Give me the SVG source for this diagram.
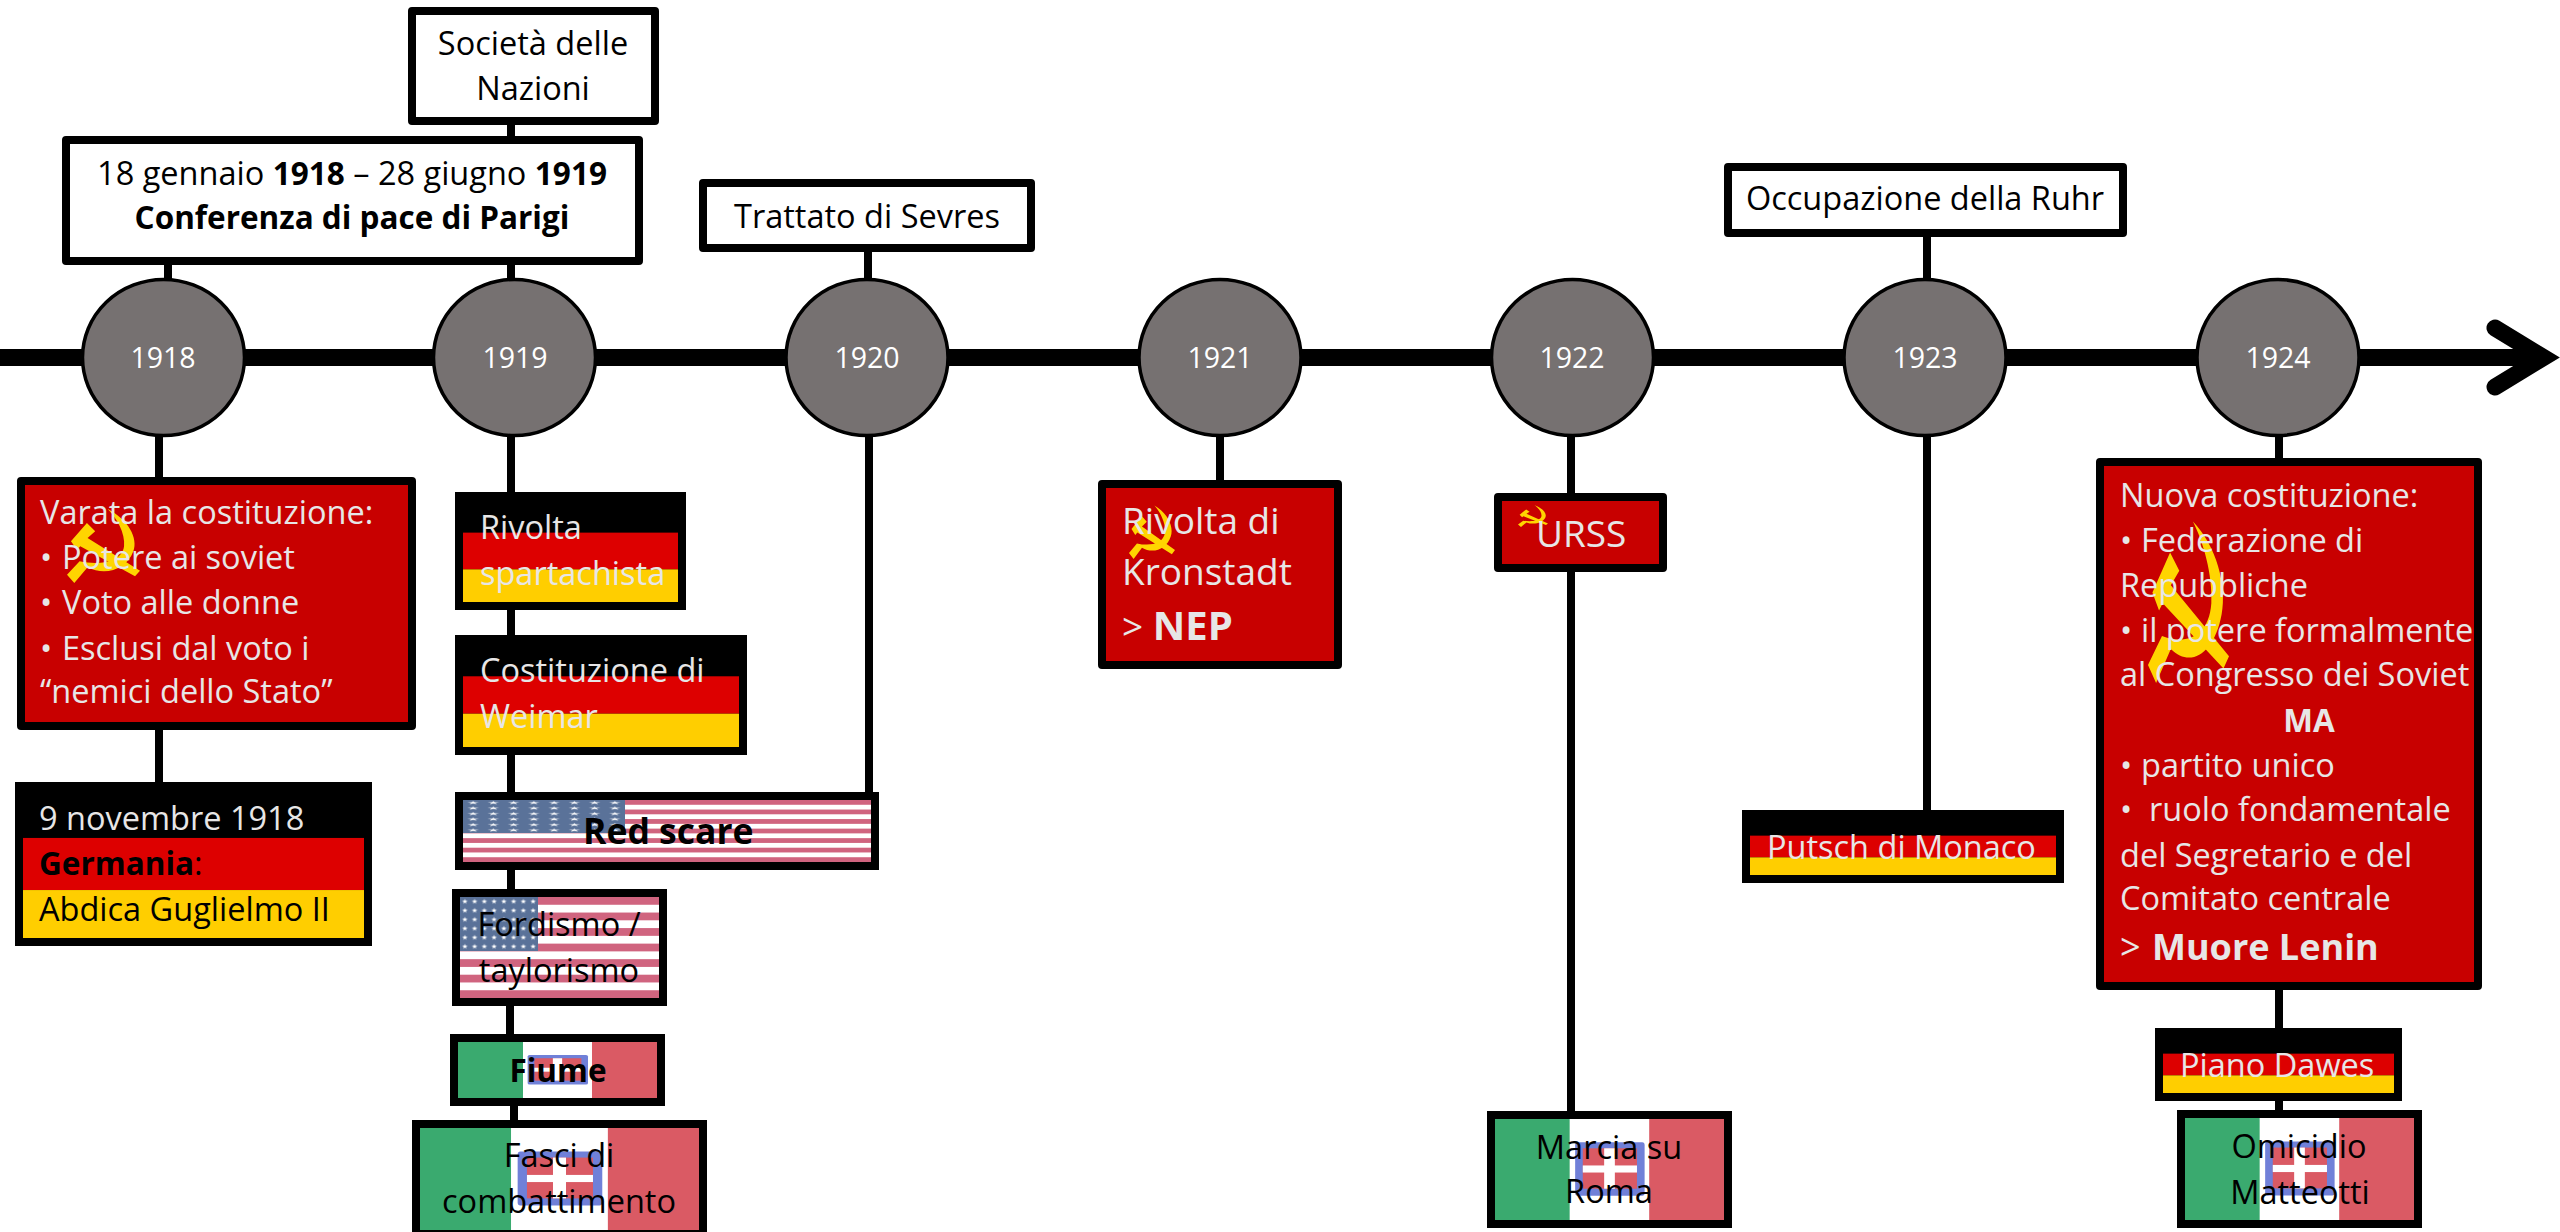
<svg xmlns="http://www.w3.org/2000/svg" width="2560" height="1232" viewBox="0 0 2560 1232">
<style>
text{font-family:"Open Sans","Liberation Sans",sans-serif;font-size:32.5px;fill:#000}
.l text,text.l{fill:#e7e6e6}
.c{text-anchor:middle}
.b{font-weight:700;font-size:31.5px}
.big{font-size:37px}
.nep{font-size:40px}
.lenin{font-size:36px}
.rs{font-size:35.5px}
.yr{font-size:28.5px;fill:#fff;text-anchor:middle}
.link{stroke:#000;stroke-width:8;fill:none}
.yr-node{fill:#767171;stroke:#000;stroke-width:3.5}
.box{fill:#fff;stroke:#000;stroke-width:8;stroke-linejoin:round}
.red{fill:#c80000;stroke:#000;stroke-width:8;stroke-linejoin:round}
.frame{fill:none;stroke:#000;stroke-width:8}
</style>
<defs>
<symbol id="hs" viewBox="0 0 220 225" preserveAspectRatio="none">
<path fill="#ffd500" d="M122,2C185,35 215,90 200,130C180,185 115,205 62,178L22,225L0,200L38,160C95,172 165,165 172,115C176,75 150,30 122,2Z"/>
<path fill="#ffd500" d="M12,100L60,45L85,70L62,90L220,188L205,205L40,115L30,125Z"/>
</symbol>
<symbol id="it" viewBox="0 0 300 100" preserveAspectRatio="none">
<rect width="98" height="100" fill="#3aaa6f"/>
<rect x="98" width="104" height="100" fill="#fff"/>
<rect x="202" width="98" height="100" fill="#da5a64"/>
<rect x="105" y="23" width="91" height="53" rx="3" fill="#7080d8"/>
<rect x="115" y="29" width="71" height="40" fill="#da5a64"/>
<rect x="143" y="29" width="14" height="40" fill="#fff"/>
<rect x="115" y="46" width="71" height="7" fill="#fff"/>
</symbol>
<symbol id="de" viewBox="0 0 100 100" preserveAspectRatio="none">
<rect width="100" height="100" fill="#000"/>
<rect y="33.3" width="100" height="33.4" fill="#dd0000"/>
<rect y="66.7" width="100" height="33.3" fill="#ffce00"/>
</symbol>
<pattern id="stripes" width="1" height="0.15385" patternContentUnits="objectBoundingBox">
<rect width="1" height="0.15385" fill="#fff"/>
<rect width="1" height="0.07692" fill="#d0647f"/>
</pattern>
<pattern id="stars" width="0.125" height="0.16667" viewBox="0 0 10 10" preserveAspectRatio="none">
<rect width="10" height="10" fill="#5a7299"/>
<polygon fill="#fff" points="5,2 5.7,4 7.9,4.1 6.1,5.4 6.8,7.4 5,6.2 3.2,7.4 3.9,5.4 2.1,4.1 4.3,4"/>
</pattern>
</defs>
<rect width="2560" height="1232" fill="#fff"/>
<g id="connectors">
<path d="M0,357.5H2540" stroke="#000" stroke-width="17" fill="none"/>
<path d="M2495,328L2543.5,357.5L2495,387" stroke="#000" stroke-width="17" fill="none" stroke-linecap="round"/>
<path class="link" d="M168,265V285M159,430V782M511,125V285M511,430V889M510,1006V1034M514,1106V1120M868,252V285M869,430V792M1220,430V480M1571,430V1111M1927,233V285M1927,430V810M2279,430V458M2279,990V1028M2279,1100V1110"/>
</g>
<g id="y1918"><ellipse class="yr-node" cx="163.5" cy="357.5" rx="81" ry="78"/><text class="yr" x="163" y="368">1918</text></g>
<g id="y1919"><ellipse class="yr-node" cx="514.5" cy="357.5" rx="81" ry="78"/><text class="yr" x="515" y="368">1919</text></g>
<g id="y1920"><ellipse class="yr-node" cx="867" cy="357.5" rx="81" ry="78"/><text class="yr" x="867" y="368">1920</text></g>
<g id="y1921"><ellipse class="yr-node" cx="1220" cy="357.5" rx="81" ry="78"/><text class="yr" x="1220" y="368">1921</text></g>
<g id="y1922"><ellipse class="yr-node" cx="1572.5" cy="357.5" rx="81" ry="78"/><text class="yr" x="1572" y="368">1922</text></g>
<g id="y1923"><ellipse class="yr-node" cx="1925" cy="357.5" rx="81" ry="78"/><text class="yr" x="1925" y="368">1923</text></g>
<g id="y1924"><ellipse class="yr-node" cx="2278" cy="357.5" rx="81" ry="78"/><text class="yr" x="2278" y="368">1924</text></g>

<g id="societa"><rect class="box" x="412" y="11" width="243" height="110"/><text class="c" x="533" y="55">Società delle</text><text class="c" x="533" y="100">Nazioni</text></g>
<g id="conferenza"><rect class="box" x="66" y="140" width="573" height="121"/><text class="c" x="352" y="185">18 gennaio <tspan class="b">1918</tspan> – 28 giugno <tspan class="b">1919</tspan></text><text class="c b" x="352" y="229">Conferenza di pace di Parigi</text></g>
<g id="trattato"><rect class="box" x="703" y="183" width="328" height="65"/><text class="c" x="867" y="228">Trattato di Sevres</text></g>
<g id="occupazione"><rect class="box" x="1728" y="167" width="395" height="66"/><text class="c" x="1925" y="210">Occupazione della Ruhr</text></g>

<g id="costituzione1918" class="l"><rect class="red" x="21" y="481" width="391" height="245"/><use href="#hs" x="67" y="508" width="73" height="75"/>
<text x="40" y="524">Varata la costituzione:</text>
<text x="40" y="569">• <tspan x="62">Potere ai soviet</tspan></text>
<text x="40" y="614">• <tspan x="62">Voto alle donne</tspan></text>
<text x="40" y="660">• <tspan x="62">Esclusi dal voto i</tspan></text>
<text x="40" y="703">“nemici dello Stato”</text></g>
<g id="germania"><use href="#de" x="19" y="786" width="349" height="156"/><rect class="frame" x="19" y="786" width="349" height="156"/>
<text class="l" x="39" y="830">9 novembre 1918</text><text x="39" y="875"><tspan class="b">Germania</tspan>:</text><text x="39" y="921">Abdica Guglielmo II</text></g>

<g id="spartachista" class="l"><use href="#de" x="459" y="496" width="223" height="110"/><rect class="frame" x="459" y="496" width="223" height="110"/><text x="480" y="539">Rivolta</text><text x="480" y="585">spartachista</text></g>
<g id="weimar" class="l"><use href="#de" x="459" y="639" width="284" height="112"/><rect class="frame" x="459" y="639" width="284" height="112"/><text x="480" y="682">Costituzione di</text><text x="480" y="728">Weimar</text></g>
<g id="redscare"><rect x="463" y="800" width="408" height="62" fill="url(#stripes)"/><rect x="463" y="800" width="162" height="33" fill="url(#stars)"/><rect class="frame" x="459" y="796" width="416" height="70"/><text class="b rs" x="583" y="844">Red scare</text></g>
<g id="fordismo"><rect x="460" y="897" width="199" height="101" fill="url(#stripes)"/><rect x="460" y="897" width="78" height="54" fill="url(#stars)"/><rect class="frame" x="456" y="893" width="207" height="109"/><text class="c" x="559" y="936">Fordismo /</text><text class="c" x="559" y="982">taylorismo</text></g>
<g id="fiume"><use href="#it" x="458" y="1042" width="199" height="56"/><rect class="frame" x="454" y="1038" width="207" height="64"/><text class="c b" x="558" y="1082">Fiume</text></g>
<g id="fasci"><use href="#it" x="420" y="1128" width="279" height="102"/><rect class="frame" x="416" y="1124" width="287" height="110"/><text class="c" x="559" y="1167">Fasci di</text><text class="c" x="559" y="1213">combattimento</text></g>

<g id="kronstadt" class="l"><rect class="red" x="1102" y="484" width="236" height="181"/><use href="#hs" x="1129" y="505" width="46" height="54"/><text class="big" x="1122" y="534">Rivolta di</text><text class="big" x="1122" y="585">Kronstadt</text><text class="big" x="1122" y="640">&gt; <tspan class="b nep">NEP</tspan></text></g>
<g id="urss" class="l"><rect class="red" x="1498" y="497" width="165" height="71"/><use href="#hs" x="1518" y="505" width="30" height="22"/><text class="big" x="1536" y="547">URSS</text></g>
<g id="marcia"><use href="#it" x="1495" y="1119" width="229" height="101"/><rect class="frame" x="1491" y="1115" width="237" height="109"/><text class="c" x="1609" y="1159">Marcia su</text><text class="c" x="1609" y="1203">Roma</text></g>
<g id="putsch" class="l"><use href="#de" x="1746" y="814" width="314" height="65"/><rect class="frame" x="1746" y="814" width="314" height="65"/><text x="1767" y="859">Putsch di Monaco</text></g>

<g id="costituzione1924" class="l"><rect class="red" x="2100" y="462" width="378" height="524"/><use href="#hs" x="2148" y="520" width="81" height="163"/>
<text x="2120" y="507">Nuova costituzione:</text>
<text x="2120" y="552">• <tspan x="2141">Federazione di</tspan></text>
<text x="2120" y="597">Repubbliche</text>
<text x="2120" y="642">• <tspan x="2141">il potere formalmente</tspan></text>
<text x="2120" y="686">al Congresso dei Soviet</text>
<text class="c b" x="2309" y="732">MA</text>
<text x="2120" y="777">• <tspan x="2141">partito unico</tspan></text>
<text x="2120" y="821">• <tspan x="2149">ruolo fondamentale</tspan></text>
<text x="2120" y="867">del Segretario e del</text>
<text x="2120" y="910">Comitato centrale</text>
<text class="lenin" x="2120" y="960">&gt; <tspan class="b lenin" x="2152">Muore Lenin</tspan></text></g>
<g id="dawes" class="l"><use href="#de" x="2159" y="1032" width="239" height="65"/><rect class="frame" x="2159" y="1032" width="239" height="65"/><text x="2180" y="1077">Piano Dawes</text></g>
<g id="matteotti"><use href="#it" x="2185" y="1118" width="229" height="102"/><rect class="frame" x="2181" y="1114" width="237" height="110"/><text class="c" x="2299" y="1158">Omicidio</text><text class="c" x="2300" y="1204">Matteotti</text></g>
</svg>
